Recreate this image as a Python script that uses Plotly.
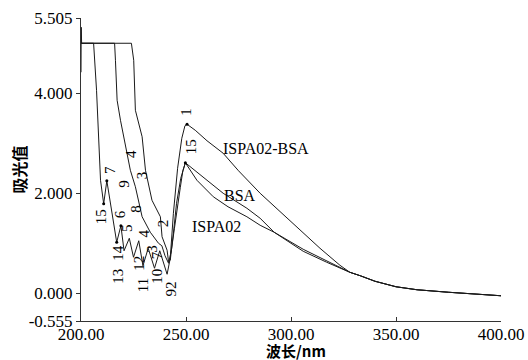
import plotly.graph_objects as go

# ---- data ----
wl_ispa02_bsa = [200.0, 200.1, 200.3, 206.0, 207.4, 209.3, 210.8, 212.3, 217.0, 219.0, 220.5, 223.0,
                 225.0, 227.5, 229.5, 232.0, 235.0, 237.5, 241.0, 242.5, 244.0, 246.0, 248.0, 249.5,
                 250.5, 254.4, 260.0, 267.7, 275.0, 285.3, 299.5, 313.8, 323.3, 328.0]
abs_ispa02_bsa = [4.42, 5.32, 5.0, 5.0, 4.06, 2.26, 1.79, 2.25, 1.02, 1.35, 0.85, 1.10,
                  0.72, 1.05, 0.55, 0.90, 0.50, 0.85, 0.38, 0.70, 1.60, 2.50, 3.10, 3.35,
                  3.38, 3.26, 3.05, 2.80, 2.45, 2.00, 1.46, 0.90, 0.56, 0.42]

wl_ispa02 = [200.0, 216.0, 216.4, 217.2, 218.8, 221.2, 222.7, 223.5, 225.9, 227.5, 229.1, 233.0,
             236.9, 238.5, 240.0, 241.7, 243.0, 244.5, 245.7, 247.3, 248.5, 249.7, 255.2, 263.0,
             270.0, 279.0, 285.3, 292.0, 305.8, 317.0, 328.0]
abs_ispa02 = [5.0, 5.0, 4.66, 3.86, 3.46, 2.92, 2.66, 2.46, 2.13, 1.86, 1.53, 1.22,
              1.00, 0.95, 0.75, 0.60, 0.85, 1.30, 1.70, 2.12, 2.45, 2.61, 2.26, 1.93,
              1.73, 1.53, 1.36, 1.22, 0.88, 0.64, 0.42]

wl_bsa = [200.0, 224.0, 225.1, 225.9, 229.1, 229.9, 230.7, 233.8, 237.8, 238.6, 241.0, 241.7,
          242.5, 244.0, 245.5, 247.5, 249.7, 260.0, 267.7, 279.0, 285.3, 292.0, 305.8, 317.0, 328.0]
abs_bsa = [5.0, 5.0, 4.66, 3.66, 3.13, 2.80, 2.46, 1.86, 1.53, 1.13, 0.86, 0.63,
           0.66, 1.20, 1.80, 2.30, 2.61, 2.26, 2.00, 1.70, 1.50, 1.22, 0.84, 0.62, 0.42]

wl_tail = [333.0, 340.0, 350.0, 360.0, 375.0, 390.0, 400.0]
abs_tail = [0.35, 0.24, 0.13, 0.07, 0.02, -0.02, -0.05]

series_names = ["ISPA02-BSA", "BSA", "ISPA02"]
series_label_pos = [(288.3, 2.90), (275.9, 1.96), (264.5, 1.34)]

peak_labels = ["1", "15", "15", "7", "9", "4", "3", "8", "6", "5", "2", "4",
               "14", "13", "12", "11", "3", "10", "7", "92"]
peak_label_x = [250.0, 252.1, 209.3, 213.7, 220.7, 223.5, 229.1, 226.4, 218.6, 221.8, 239.0, 229.9,
                217.9, 217.9, 227.8, 229.5, 233.8, 236.2, 236.2, 243.0]
peak_label_y = [3.63, 2.93, 1.53, 2.46, 2.20, 2.79, 2.36, 1.70, 1.58, 1.30, 1.40, 1.19,
                0.80, 0.34, 0.60, 0.16, 0.89, 0.33, 0.76, 0.08]

marker_x = [250.5, 249.7, 210.8, 212.3, 217.0, 219.0]
marker_y = [3.38, 2.61, 1.79, 2.25, 1.02, 1.35]

y_tickvals = [5.505, 4.0, 2.0, 0.0, -0.555]
y_ticktext = ["5.505", "4.000", "2.000", "0.000", "-0.555"]
x_tickvals = [200, 250, 300, 350, 400]
x_ticktext = ["200.00", "250.00", "300.00", "350.00", "400.00"]

SERIF = "Liberation Serif"
CJK = "Noto Sans CJK SC"
LINE = "#1a1a1a"

fig = go.Figure()
for wl, ab in [(wl_ispa02_bsa, abs_ispa02_bsa), (wl_ispa02, abs_ispa02), (wl_bsa, abs_bsa)]:
    fig.add_trace(go.Scatter(x=wl + wl_tail, y=ab + abs_tail, mode="lines",
                             line=dict(color=LINE, width=1), showlegend=False, hoverinfo="skip"))

fig.add_trace(go.Scatter(x=marker_x, y=marker_y, mode="markers",
                         marker=dict(color="black", size=3), showlegend=False, hoverinfo="skip"))

for name, (px, py) in zip(series_names, series_label_pos):
    fig.add_annotation(x=px, y=py, text=name, showarrow=False,
                       font=dict(family=SERIF, size=16, color="black"))

for t, px, py in zip(peak_labels, peak_label_x, peak_label_y):
    fig.add_annotation(x=px, y=py, text=t, showarrow=False, textangle=-90,
                       font=dict(family=SERIF, size=15, color="black"))

# axis titles placed as paper annotations
fig.add_annotation(xref="paper", yref="paper", x=0.512, y=-0.099, text="波长/nm",
                   showarrow=False, xanchor="center", yanchor="middle",
                   font=dict(family=CJK, size=15, color="black", weight="bold"))
fig.add_annotation(xref="paper", yref="paper", x=-0.15, y=0.50, text="吸光值",
                   showarrow=False, xanchor="center", yanchor="middle", textangle=-90,
                   font=dict(family=CJK, size=16, color="black", weight="bold"))

fig.update_layout(
    width=528, height=360,
    margin=dict(l=81, r=27, t=18, b=39, autoexpand=False),
    paper_bgcolor="white", plot_bgcolor="white",
    xaxis=dict(range=[200, 400], tickvals=x_tickvals, ticktext=x_ticktext, automargin=False,
               showgrid=False, zeroline=False, showline=True, linecolor="#333", linewidth=1,
               ticks="inside", ticklen=4, tickcolor="#333", ticklabelstandoff=-2,
               tickfont=dict(family=SERIF, size=17, color="black")),
    yaxis=dict(range=[-0.555, 5.505], tickvals=y_tickvals, ticktext=y_ticktext, automargin=False,
               showgrid=False, zeroline=False, showline=True, linecolor="#333", linewidth=1,
               ticks="outside", ticklen=4, tickcolor="#333",
               tickfont=dict(family=SERIF, size=17, color="black")),
)

fig.write_html("out.html", config={"displayModeBar": False},
               post_script="document.body.style.margin='0';")
